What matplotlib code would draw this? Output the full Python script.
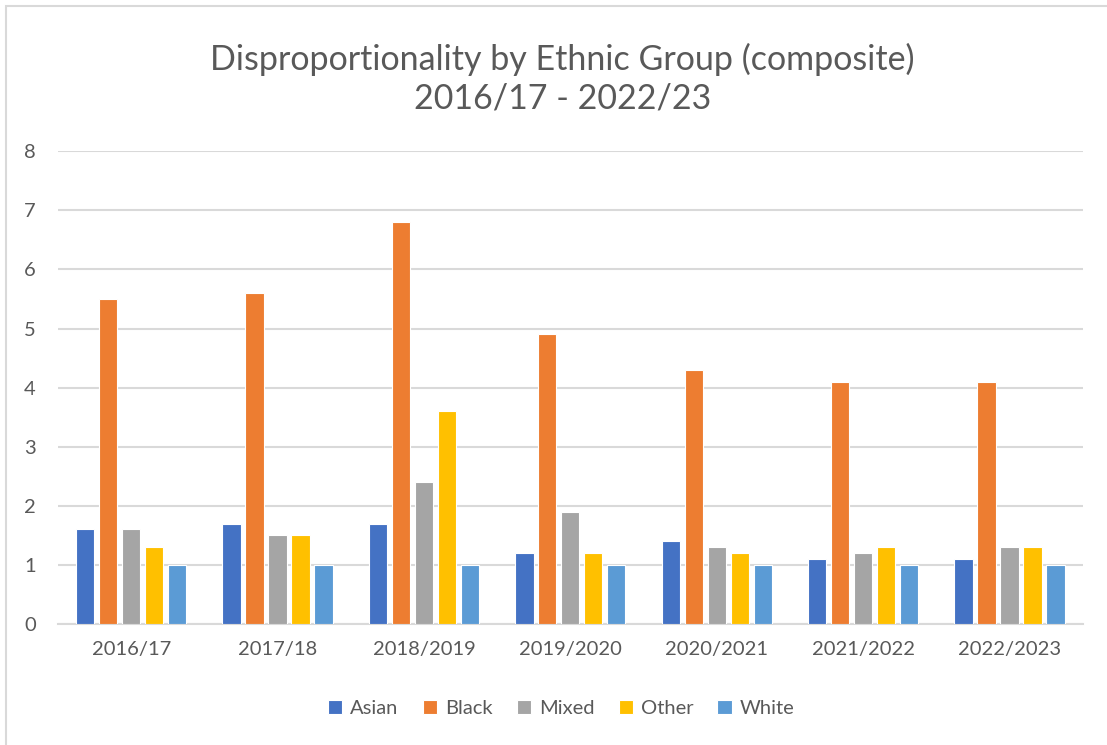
import numpy as np
import matplotlib.pyplot as plt
from matplotlib.patches import Rectangle

plt.rcParams['font.family'] = ['Lato', 'DejaVu Sans']

# ===== 数据 =====
years = ['2016/17', '2017/18', '2018/2019', '2019/2020', '2020/2021', '2021/2022', '2022/2023']
asian = [1.6, 1.7, 1.7, 1.2, 1.4, 1.1, 1.1]
black = [5.5, 5.6, 6.8, 4.9, 4.3, 4.1, 4.1]
mixed = [1.6, 1.5, 2.4, 1.9, 1.3, 1.2, 1.3]
other = [1.3, 1.5, 3.6, 1.2, 1.2, 1.3, 1.3]
white = [1.0, 1.0, 1.0, 1.0, 1.0, 1.0, 1.0]

series = {'Asian': asian, 'Black': black, 'Mixed': mixed, 'Other': other, 'White': white}
colors = ['#4472C4', '#ED7D31', '#A5A5A5', '#FFC000', '#5B9BD5']
text_color = '#595959'

fig = plt.figure(figsize=(11.07, 7.45), dpi=100)
ax = fig.add_axes([0.0524, 0.1624, 0.9256, 0.6346])

x = np.arange(len(years))
pitch = 0.157
width = 0.125
for i, (name, vals) in enumerate(series.items()):
    ax.bar(x + (i - 2) * pitch, vals, width=width, color=colors[i],
           edgecolor='white', linewidth=0.8, label=name, zorder=3)

ax.set_xlim(-0.5, len(years) - 0.5)
ax.set_ylim(0, 8)
ax.set_yticks(range(0, 9))
ax.set_xticks(x)
ax.set_xticklabels(years)
ax.yaxis.grid(True, color='#D9D9D9', linewidth=1.5, zorder=0)
ax.set_axisbelow(True)
for s in ['top', 'right', 'left']:
    ax.spines[s].set_visible(False)
ax.spines['bottom'].set_color('#D9D9D9')
ax.spines['bottom'].set_linewidth(1.5)
ax.tick_params(axis='both', length=0, labelsize=14.5, colors=text_color)
ax.tick_params(axis='y', pad=16)
ax.tick_params(axis='x', pad=12)

fig.text(0.508, 0.895, 'Disproportionality by Ethnic Group (composite)\n2016/17 - 2022/23',
         ha='center', va='center', fontsize=24.5, color=text_color, linespacing=1.25)

leg = fig.legend(loc='center', bbox_to_anchor=(0.507, 0.049), ncol=5, frameon=False,
                 fontsize=14.5, handlelength=0.7, handleheight=0.7, handletextpad=0.4,
                 columnspacing=1.2)
for t in leg.get_texts():
    t.set_color(text_color)

# 外框
fig.patches.append(Rectangle((0.005, -0.01), 1.2, 1.002, transform=fig.transFigure,
                             fill=False, edgecolor='#D9D9D9', linewidth=1.5))

fig.savefig('out.png', dpi=100)
